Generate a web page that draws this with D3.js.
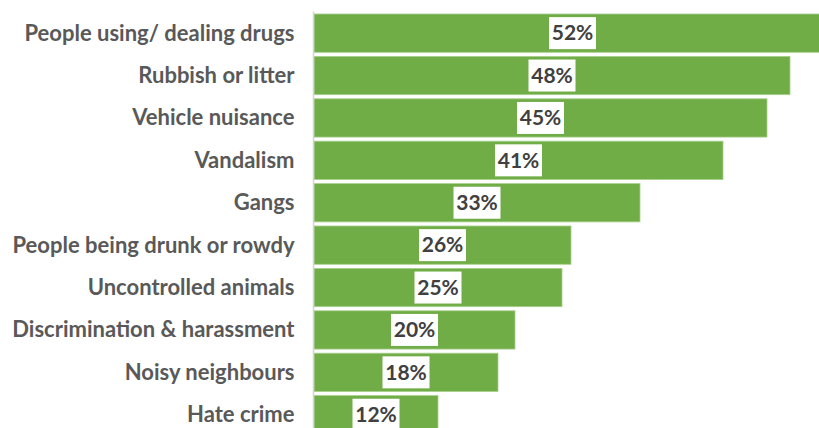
<!DOCTYPE html>
<html>
<head>
<meta charset="utf-8">
<script src="https://cdn.jsdelivr.net/npm/d3@7"></script>
<style>
  html, body { margin: 0; padding: 0; background: #ffffff; overflow: hidden; }
  svg { display: block; }
</style>
</head>
<body>
<svg id="chart" width="819" height="428"></svg>
<script>
// ---- Data ----
const categories = [
  "People using/ dealing drugs",
  "Rubbish or litter",
  "Vehicle nuisance",
  "Vandalism",
  "Gangs",
  "People being drunk or rowdy",
  "Uncontrolled animals",
  "Discrimination & harassment",
  "Noisy neighbours",
  "Hate crime"
];
const values = [51.7, 47.6, 45.3, 40.9, 32.6, 25.7, 24.8, 20.1, 18.4, 12.4];
const valueLabels = ["52%", "48%", "45%", "41%", "33%", "26%", "25%", "20%", "18%", "12%"];

// ---- Layout ----
const W = 819, H = 428;
const svg = d3.select("#chart");

const x = d3.scaleLinear().domain([0, 100]).range([314, 1314]);
const y = d3.scaleBand()
  .domain(categories)
  .range([11.94, 435.94])
  .paddingInner(0.097)
  .paddingOuter(0.0485);

const rows = categories.map((c, i) => ({ cat: c, v: values[i], lab: valueLabels[i] }));

// bars
svg.append("g").selectAll("rect")
  .data(rows).join("rect")
  .attr("x", x(0))
  .attr("y", d => y(d.cat))
  .attr("width", d => x(d.v) - x(0))
  .attr("height", y.bandwidth())
  .attr("fill", "#70ad47")
  .attr("stroke", "#a8d08d")
  .attr("stroke-width", 0.8);

// axis line (category axis)
const yAxis = d3.axisLeft(y).tickSize(0).tickPadding(19);
const gAxis = svg.append("g")
  .attr("transform", `translate(${x(0) - 0.5},0)`)
  .call(yAxis);
gAxis.select(".domain")
  .attr("d", `M0,11.5V${H}`)
  .attr("stroke", "#d4d4d4")
  .attr("stroke-width", 1.5);
gAxis.selectAll("text")
  .attr("fill", "#595959")
  .attr("dy", "0.34em")
  .style("font-family", "Lato, 'Open Sans', sans-serif")
  .style("font-weight", "bold")
  .style("font-size", "22px");

// value labels with white boxes
const lg = svg.append("g").selectAll("g")
  .data(rows).join("g")
  .attr("transform", d => `translate(${(x(0) + x(d.v)) / 2},${y(d.cat) + y.bandwidth() / 2})`);
lg.append("rect")
  .attr("x", -23.5).attr("y", -16)
  .attr("width", 47).attr("height", 32)
  .attr("fill", "#ffffff");
lg.append("text")
  .attr("text-anchor", "middle")
  .attr("dy", "0.35em")
  .attr("fill", "#404040")
  .style("font-family", "Lato, 'Open Sans', sans-serif")
  .style("font-weight", "bold")
  .style("font-size", "21px")
  .text(d => d.lab);
</script>
</body>
</html>
